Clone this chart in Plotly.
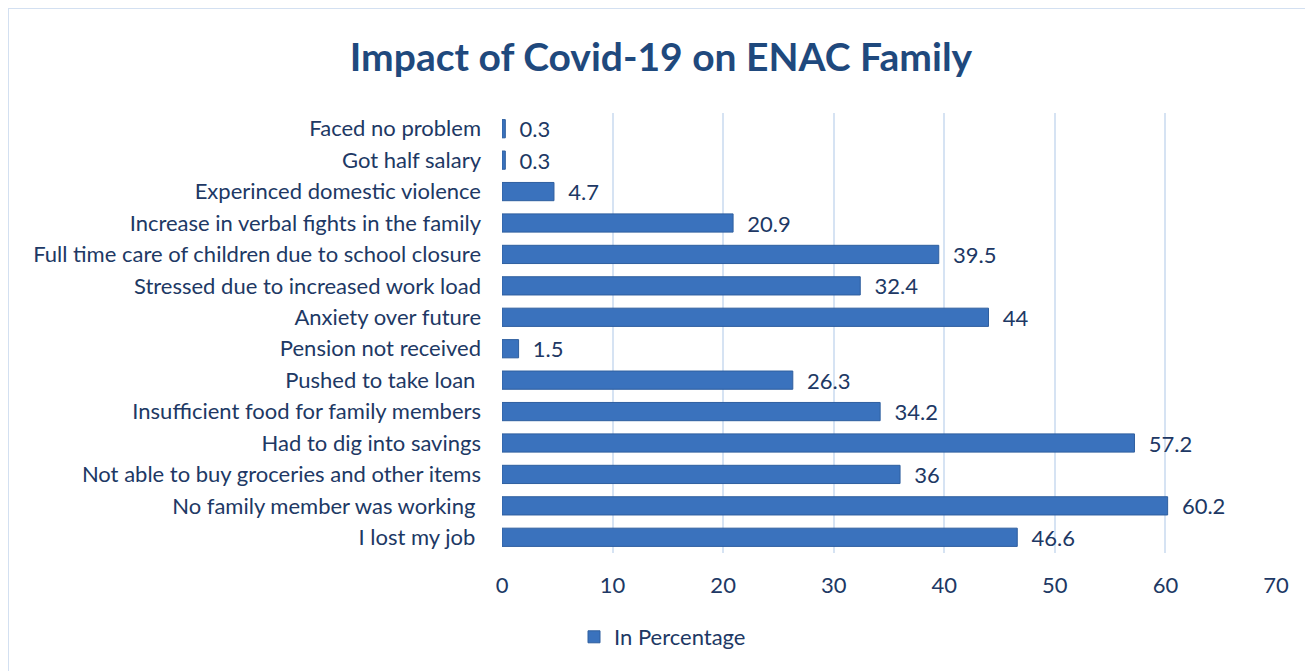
import plotly.graph_objects as go

categories = [
    "Faced no problem",
    "Got half salary",
    "Experinced domestic violence",
    "Increase in verbal fights in the family",
    "Full time care of children due to school closure",
    "Stressed due to increased work load",
    "Anxiety over future",
    "Pension not received",
    "Pushed to take loan\u00a0",
    "Insufficient food for family members",
    "Had to dig into savings",
    "Not able to buy groceries and other items",
    "No family member was working\u00a0",
    "I lost my job\u00a0",
]
percentages = [0.3, 0.3, 4.7, 20.9, 39.5, 32.4, 44, 1.5, 26.3, 34.2, 57.2, 36, 60.2, 46.6]
x_ticks = [0, 10, 20, 30, 40, 50, 60, 70]

# page has an 8px body margin, so figure coords = page coords - 8
W, H = 1305, 663
L, R, T, B = 494, 1268, 105, 545
text_color = "#203864"
font_family = "Lato, 'Open Sans', sans-serif"

fig = go.Figure()
fig.add_trace(
    go.Bar(
        y=categories,
        x=percentages,
        orientation="h",
        name="In Percentage",
        marker=dict(color="#3A72BD", line=dict(color="#2F5F9F", width=1)),
        text=[f"{v:g}" for v in percentages],
        texttemplate="  %{text}",
        textposition="outside",
        constraintext="none",
        textfont=dict(color=text_color, size=22),
        cliponaxis=False,
    )
)


def px_x(v):
    return (v - L) / (R - L)


def px_y(v):
    return (B - v) / (B - T)


# chart frame (cropped at right and bottom in the reference)
fig.add_shape(
    type="rect", xref="paper", yref="paper",
    x0=px_x(0), x1=px_x(W + 20), y0=px_y(H + 20), y1=px_y(0),
    line=dict(color="#D3E0F1", width=2), fillcolor="rgba(0,0,0,0)", layer="below",
)

fig.update_layout(
    width=W,
    height=H,
    margin=dict(l=L, r=W - R, t=T, b=H - B),
    paper_bgcolor="white",
    plot_bgcolor="white",
    font=dict(family=font_family, color=text_color, size=22),
    title=dict(
        text="<b>Impact of Covid-19 on ENAC Family</b>",
        x=653 / W, xref="container", xanchor="center",
        y=1 - 49 / H, yref="container", yanchor="middle",
        font=dict(size=39, color="#1F497D", family=font_family),
    ),
    bargap=0.42,
    showlegend=True,
    legend=dict(
        orientation="h",
        x=px_x(566), xanchor="left",
        y=px_y(629), yanchor="middle",
        font=dict(size=22, color=text_color),
        itemwidth=30,
    ),
    xaxis=dict(
        range=[0, 70],
        tickvals=x_ticks,
        showgrid=True,
        gridcolor="#D6E3F3",
        gridwidth=2,
        zeroline=False,
        showline=False,
        ticks="",
        ticklabelstandoff=17,
        tickfont=dict(size=22, color=text_color),
    ),
    yaxis=dict(
        autorange="reversed",
        showgrid=False,
        showline=False,
        ticks="",
        ticklabelstandoff=20,
        tickfont=dict(size=22, color=text_color),
    ),
)

fig.write_html("out.html")
